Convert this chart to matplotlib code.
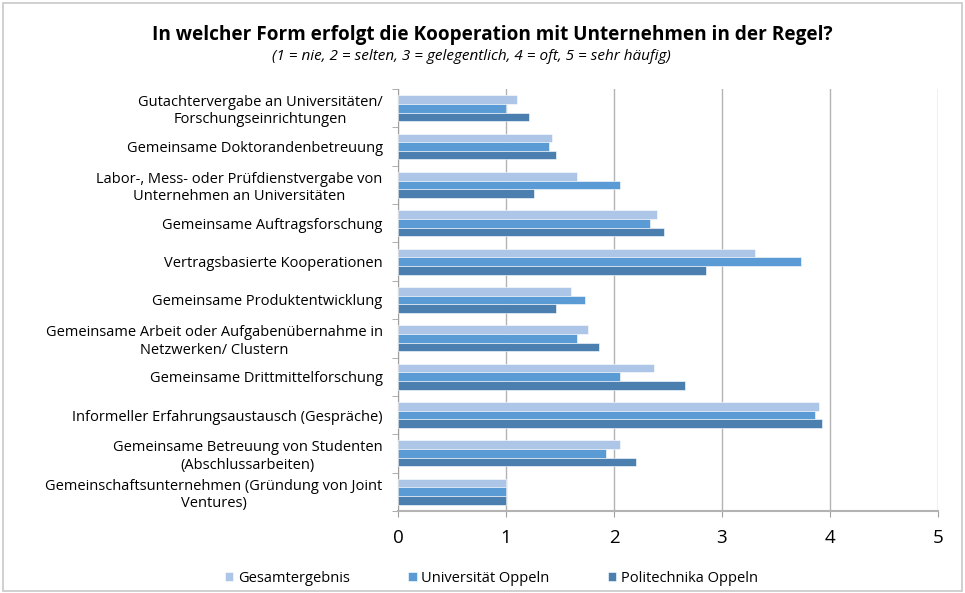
import numpy as np
import matplotlib.pyplot as plt
from matplotlib.patches import Rectangle

plt.rcParams['font.family'] = ['Open Sans', 'DejaVu Sans']

categories = [
    "Gutachtervergabe an Universitäten/\nForschungseinrichtungen",
    "Gemeinsame Doktorandenbetreuung",
    "Labor-, Mess- oder Prüfdienstvergabe von\nUnternehmen an Universitäten",
    "Gemeinsame Auftragsforschung",
    "Vertragsbasierte Kooperationen",
    "Gemeinsame Produktentwicklung",
    "Gemeinsame Arbeit oder Aufgabenübernahme in\nNetzwerken/ Clustern",
    "Gemeinsame Drittmittelforschung",
    "Informeller Erfahrungsaustausch (Gespräche)",
    "Gemeinsame Betreuung von Studenten\n(Abschlussarbeiten)",
    "Gemeinschaftsunternehmen (Gründung von Joint\nVentures)",
]
series_names = ["Gesamtergebnis", "Universität Oppeln", "Politechnika Oppeln"]
gesamt = [1.10, 1.43, 1.66, 2.40, 3.31, 1.60, 1.76, 2.37, 3.90, 2.06, 1.00]
uni = [1.00, 1.40, 2.06, 2.33, 3.73, 1.73, 1.66, 2.06, 3.86, 1.93, 1.00]
poli = [1.21, 1.46, 1.26, 2.46, 2.85, 1.46, 1.86, 2.66, 3.93, 2.20, 1.00]
colors = ["#adc5e7", "#5a9bd5", "#4a7fb0"]

fig = plt.figure(figsize=(9.65, 5.93), dpi=100)
ax = fig.add_axes([0.4124, 0.1383, 0.5596, 0.7116])

n = len(categories)
y = np.arange(n)
h = 0.225
for i, (vals, c, name) in enumerate(zip([gesamt, uni, poli], colors, series_names)):
    ax.barh(y + (i - 1) * h, vals, height=h, color=c, edgecolor="white",
            linewidth=0.4, label=name, zorder=3)

ax.set_ylim(n - 0.5, -0.5)
ax.set_xlim(0, 5)
ax.set_xticks(range(6))
ax.tick_params(axis="x", labelsize=13.5, length=4, color="#a0a0a0", pad=9)
ax.grid(axis="x", color="#b3b3b3", linewidth=1.0, zorder=0)

ax.set_yticks(y)
ax.set_yticklabels(categories, fontsize=10.5, multialignment="center")
ax.tick_params(axis="y", length=0, pad=11)
ax.set_yticks(np.arange(n + 1) - 0.5, minor=True)
ax.tick_params(axis="y", which="minor", length=4, color="#a0a0a0")

for s in ["top", "right"]:
    ax.spines[s].set_visible(False)
ax.spines["left"].set_color("#a0a0a0")
ax.spines["bottom"].set_color("#b3b3b3")
ax.spines["bottom"].set_linewidth(1.5)

fig.text(0.51, 0.941, "In welcher Form erfolgt die Kooperation mit Unternehmen in der Regel?",
         ha="center", va="center", fontsize=13.7, fontweight="bold")
fig.text(0.488, 0.904, "(1 = nie, 2 = selten, 3 = gelegentlich, 4 = oft, 5 = sehr häufig)",
         ha="center", va="center", fontsize=11, style="italic")

fig.legend(loc="center", bbox_to_anchor=(0.509, 0.025), ncol=3, frameon=False,
           fontsize=10.5, handlelength=0.6, handleheight=0.6, handletextpad=0.3,
           columnspacing=4.0)

fig.patches.append(Rectangle((0.003, 0.004), 0.994, 0.991, transform=fig.transFigure,
                             fill=False, edgecolor="#c8c8c8", linewidth=1.2))

fig.savefig("out.png", dpi=100)
